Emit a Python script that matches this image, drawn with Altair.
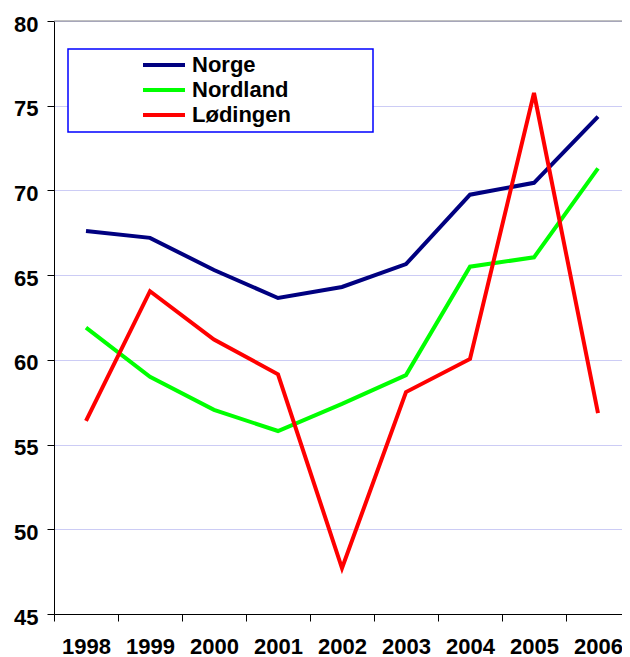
import altair as alt
import pandas as pd

years = ["1998", "1999", "2000", "2001", "2002", "2003", "2004", "2005", "2006"]
series = ["Norge", "Nordland", "Lødingen"]
norge = [67.6, 67.2, 65.3, 63.65, 64.3, 65.65, 69.75, 70.45, 74.35]
nordland = [61.9, 59.0, 57.05, 55.8, 57.4, 59.1, 65.5, 66.05, 71.3]
lodingen = [56.4, 64.05, 61.2, 59.15, 47.7, 58.1, 60.05, 75.75, 56.85]
colors = ["#000080", "#00ff00", "#ff0000"]
y_ticks = [45, 50, 55, 60, 65, 70, 75, 80]

rows = []
for name, vals in zip(series, [norge, nordland, lodingen]):
    for yr, v in zip(years, vals):
        rows.append({"year": yr, "series": name, "value": v})
df = pd.DataFrame(rows)
legend_df = pd.DataFrame({"series": series, "i": list(range(len(series)))})

FONT = "Liberation Sans"
color_scale = alt.Scale(domain=series, range=colors)

x_enc = alt.X(
    "year:N",
    sort=years,
    scale=alt.Scale(paddingInner=0, paddingOuter=0, range=[0, 576]),
    axis=alt.Axis(
        title=None, labelAngle=0, tickBand="extent", grid=False,
        domainColor="black", tickColor="black", tickSize=7,
        labelPadding=15, labelFont=FONT, labelFontSize=22,
        labelFontWeight="bold", labelColor="black",
    ),
)
y_enc = alt.Y(
    "value:Q",
    scale=alt.Scale(domain=[45, 80], nice=False, zero=False),
    axis=alt.Axis(
        title=None, values=y_ticks, grid=True, gridColor="#ccccf5",
        domainColor="black", tickColor="black", tickSize=7,
        labelPadding=9, labelFont=FONT, labelFontSize=22,
        labelFontWeight="bold", labelColor="black", labelOffset=3,
    ),
)

top_rule = alt.Chart(pd.DataFrame({"v": [80]})).mark_rule(
    color="#808080", strokeWidth=1
).encode(y=alt.Y("v:Q", scale=alt.Scale(domain=[45, 80], nice=False, zero=False), axis=None))

lines = alt.Chart(df).mark_line(strokeWidth=4).encode(
    x=x_enc,
    y=y_enc,
    color=alt.Color("series:N", scale=color_scale, legend=None),
    detail="series:N",
)

legend_box = alt.Chart(pd.DataFrame({"a": [0]})).mark_rect(
    fill="white", stroke="#0000ff", strokeWidth=1.5
).encode(
    x=alt.value(14), x2=alt.value(319), y=alt.value(28), y2=alt.value(111)
)

legend_base = alt.Chart(legend_df).transform_calculate(ly="44 + 25 * datum.i")
legend_lines = legend_base.mark_rule(strokeWidth=4).encode(
    x=alt.value(89), x2=alt.value(131),
    y=alt.Y("ly:Q", scale=None, axis=None),
    color=alt.Color("series:N", scale=color_scale, legend=None),
)
legend_text = legend_base.mark_text(
    align="left", baseline="middle", font=FONT, fontSize=22,
    fontWeight="bold", color="black"
).encode(
    x=alt.value(138),
    y=alt.Y("ly:Q", scale=None, axis=None),
    text="series:N",
)

chart = alt.layer(
    top_rule, lines, legend_box, legend_lines, legend_text
).resolve_scale(y="independent").properties(
    width=568, height=593,
    autosize=alt.AutoSizeParams(type="none"),
    padding={"left": 46, "top": 13, "right": 0, "bottom": 45},
).configure_view(stroke=None)

chart.save("out.html", embed_options={"renderer": "svg", "actions": False})
